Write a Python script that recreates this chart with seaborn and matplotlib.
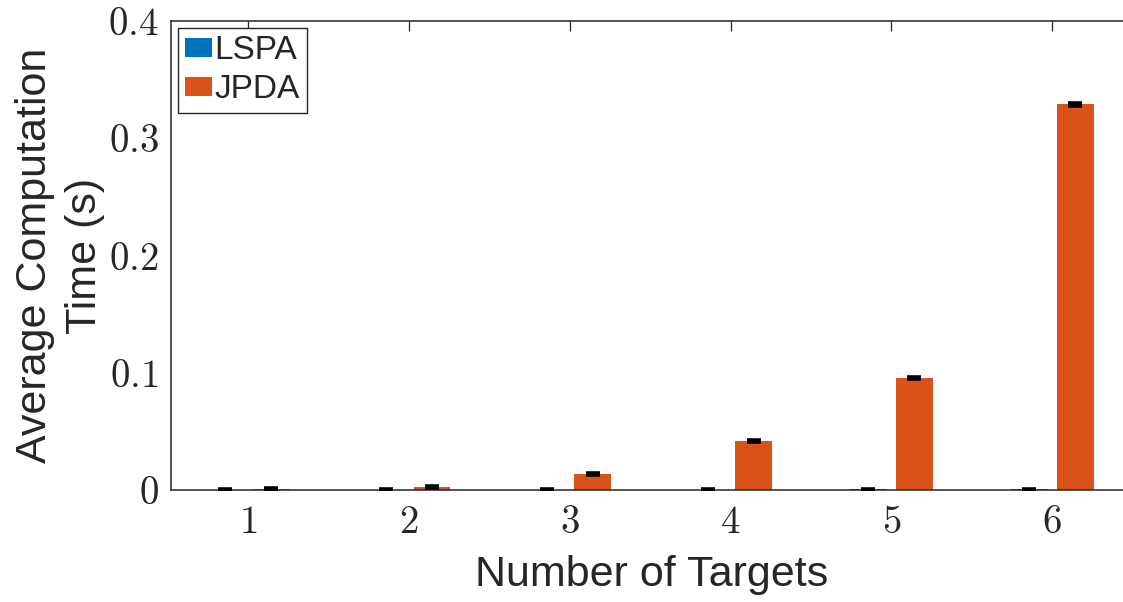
import numpy as np
import pandas as pd
import matplotlib
matplotlib.use("Agg")
import matplotlib.pyplot as plt
import seaborn as sns

# ---- data ----
targets = ["1", "2", "3", "4", "5", "6"]
methods = ["LSPA", "JPDA"]
lspa_time = [0.0002, 0.0002, 0.0003, 0.0004, 0.0005, 0.0006]
jpda_time = [0.0008, 0.0026, 0.0139, 0.0418, 0.0955, 0.3290]
lspa_err = [0.0003, 0.0003, 0.0003, 0.0003, 0.0003, 0.0003]
jpda_err = [0.0008, 0.0010, 0.0010, 0.0010, 0.0010, 0.0012]
yticks = [0, 0.1, 0.2, 0.3, 0.4]
ytick_labels = ["0", "0.1", "0.2", "0.3", "0.4"]

colors = {"LSPA": "#0072BD", "JPDA": "#D95319"}

df = pd.DataFrame({
    "Targets": targets * 2,
    "Method": ["LSPA"] * len(targets) + ["JPDA"] * len(targets),
    "Time": lspa_time + jpda_time,
})
errs = {"LSPA": lspa_err, "JPDA": jpda_err}

sns.set_style("white")
plt.rcParams["font.family"] = ["Liberation Sans", "DejaVu Sans"]
plt.rcParams["mathtext.fontset"] = "cm"

fig = plt.figure(figsize=(11.23, 6.02), dpi=100)
ax = fig.add_axes([0.1523, 0.186, 0.8562, 0.779])

sns.barplot(data=df, x="Targets", y="Time", hue="Method", hue_order=methods,
            order=targets, palette=colors, width=0.572, gap=0.2,
            errorbar=None, legend=False, linewidth=0, edgecolor="none",
            saturation=1, ax=ax)

for cont, m in zip(ax.containers, methods):
    xs = [b.get_x() + b.get_width() / 2 for b in cont]
    ys = [b.get_height() for b in cont]
    ax.errorbar(xs, ys, yerr=errs[m], fmt="none", ecolor="black",
                elinewidth=1.2, capsize=4.7, capthick=2.6, zorder=5)

ax.set_xlim(-0.48, 5.5)
ax.set_ylim(0, 0.4)
ax.set_yticks(yticks)
ax.set_yticklabels(["$" + t + "$" for t in ytick_labels])
ax.set_xticks(range(len(targets)))
ax.set_xticklabels(["$" + t + "$" for t in targets])

for side in ["left", "bottom", "top", "right"]:
    ax.spines[side].set_visible(True)
    ax.spines[side].set_color("#262626")
    ax.spines[side].set_linewidth(1.1)

ax.tick_params(axis="both", which="major", direction="in", length=7,
               width=0.9, color="#262626", labelsize=28, labelcolor="#262626",
               top=True, right=True)
ax.tick_params(axis="y", pad=9)
ax.tick_params(axis="x", pad=11)

ax.set_xlabel("Number of Targets", fontsize=31, color="#262626", labelpad=10)
ax.set_ylabel("Average Computation\nTime (s)", fontsize=31, color="#262626",
              labelpad=2, linespacing=1.32)

leg = ax.legend(ax.containers, methods, loc="upper left", fontsize=24,
                handlelength=0.82, handleheight=0.5, handletextpad=0.06,
                borderaxespad=0.2, borderpad=0.22, labelspacing=0.25,
                frameon=True, fancybox=False, framealpha=1)
leg.get_frame().set_edgecolor("#262626")
leg.get_frame().set_linewidth(1.0)

fig.savefig("out.png", dpi=100)
